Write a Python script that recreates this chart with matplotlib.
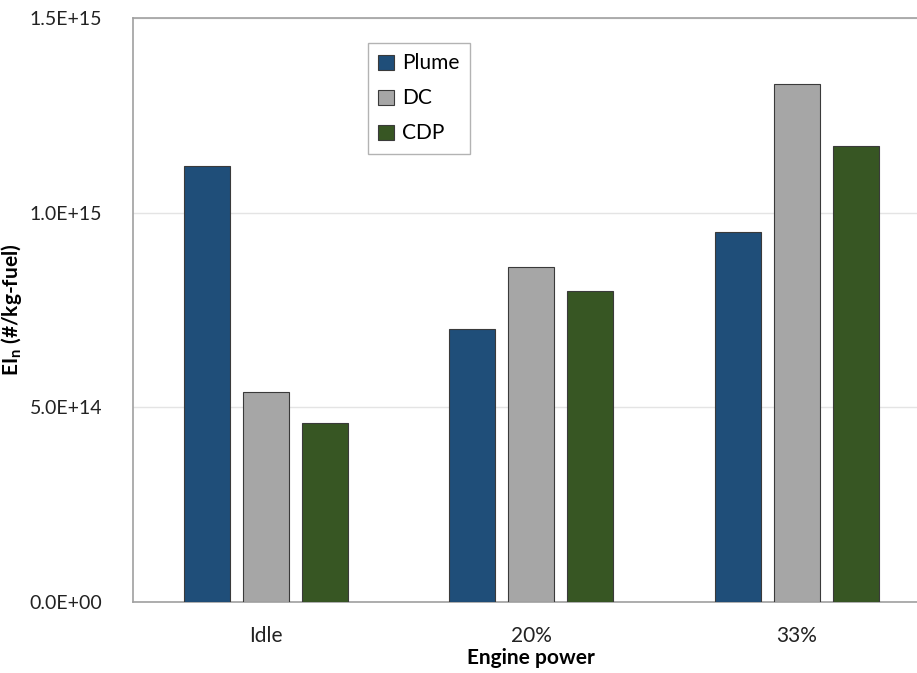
import matplotlib.pyplot as plt
import numpy as np
from matplotlib.ticker import FuncFormatter

plt.rcParams['font.family'] = ['Lato', 'DejaVu Sans']

categories = ['Idle', '20%', '33%']
series = ['Plume', 'DC', 'CDP']
plume = [1.12e15, 7.0e14, 9.5e14]
dc = [5.4e14, 8.6e14, 1.33e15]
cdp = [4.6e14, 8.0e14, 1.17e15]
colors = ['#1F4E79', '#A6A6A6', '#375623']

fig = plt.figure(figsize=(9.17, 6.73), dpi=100)
ax = fig.add_axes([0.145, 0.1055, 0.8686, 0.8678])

x = np.arange(len(categories))
w = 0.173
off = 0.222
for i, (vals, name) in enumerate(zip([plume, dc, cdp], series)):
    ax.bar(x + (i - 1) * off, vals, width=w, color=colors[i], edgecolor='#3a3a3a',
           linewidth=0.8, label=name, zorder=3)

ax.set_xlim(-0.5, 2.5)
ax.set_ylim(0, 1.5e15)
ax.set_yticks([0, 5e14, 1e15, 1.5e15])
ax.yaxis.set_major_formatter(FuncFormatter(lambda v, p: f'{v:.1E}'))
ax.set_xticks(x)
ax.set_xticklabels(categories)
ax.tick_params(axis='both', length=0, labelsize=15, colors='#222222')
ax.tick_params(axis='y', labelsize=14, pad=22)
ax.tick_params(axis='x', pad=17)
ax.grid(axis='y', color='#e4e4e4', linewidth=1, zorder=0)

for s in ['left', 'top', 'bottom']:
    ax.spines[s].set_color('#a0a0a0')
    ax.spines[s].set_linewidth(1.2)
ax.spines['right'].set_visible(False)

ax.set_ylabel('EI$_\\mathregular{n}$ (#/kg-fuel)', fontsize=15, fontweight='bold')
ax.yaxis.set_label_coords(-0.137, 0.5)
ax.set_xlabel('Engine power', fontsize=15, fontweight='bold')
ax.xaxis.set_label_coords(0.5, -0.079)

leg = ax.legend(loc='upper left', bbox_to_anchor=(0.295, 0.957), fontsize=15,
                handlelength=0.75, handleheight=0.75, labelspacing=0.72, handletextpad=0.4,
                frameon=True, fancybox=False, borderpad=0.5, borderaxespad=0)
leg.get_frame().set_edgecolor('#a0a0a0')
leg.get_frame().set_linewidth(1)

plt.savefig('out.png', dpi=100)
